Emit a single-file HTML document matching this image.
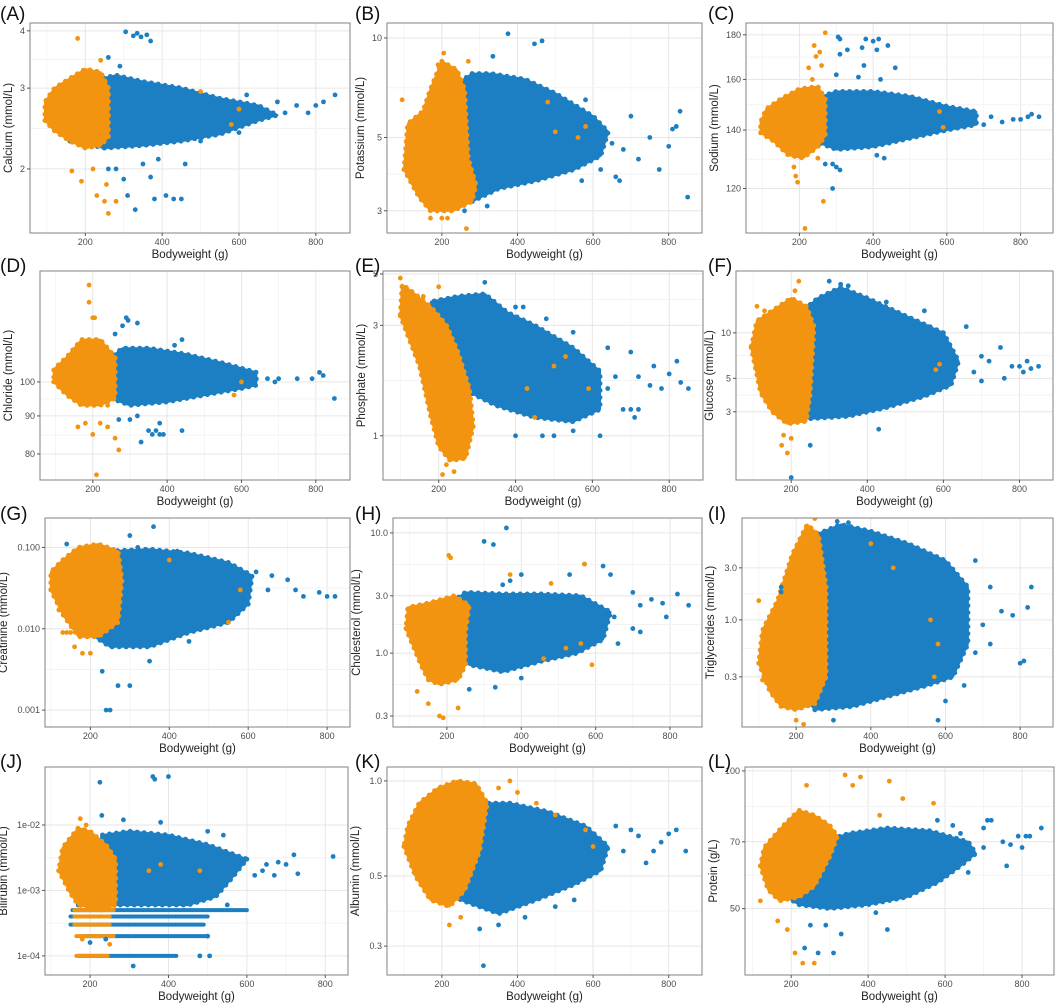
<!DOCTYPE html>
<html><head><meta charset="utf-8">
<style>
html,body{margin:0;padding:0;background:#fff;}
svg{display:block;font-family:"Liberation Sans",sans-serif;}
</style></head>
<body>
<svg id="fig" width="1059" height="1005" viewBox="0 0 1059 1005" xmlns="http://www.w3.org/2000/svg"></svg>
<script>
// ---------- data ----------
const xTicks = [200, 400, 600, 800];
const aTicks = [2, 3, 4];
const aBlueHull = [[160,2.3],[250,2.22],[350,2.25],[450,2.3],[550,2.38],[650,2.55],[700,2.62],[650,2.75],[550,2.85],[450,3.0],[350,3.1],[280,3.2],[200,3.1],[160,2.9]];
const aOrangeHull = [[95,2.55],[120,2.42],[160,2.3],[200,2.22],[240,2.25],[260,2.35],[260,3.0],[240,3.25],[200,3.3],[160,3.15],[120,3.0],[95,2.8]];
const aBluePts = [[305,3.98],[325,3.9],[335,3.95],[345,3.88],[360,3.92],[370,3.8],[260,3.5],[290,3.35],[620,2.9],[700,2.8],[750,2.75],[780,2.65],[800,2.75],[820,2.8],[850,2.9],[720,2.65],[300,1.9],[310,1.75],[330,1.63],[370,1.92],[380,1.72],[410,1.75],[430,1.72],[450,1.72],[260,2.0],[280,2.0],[350,2.05],[390,2.1],[460,2.05],[500,2.3],[600,2.4]];
const aOrangePts = [[180,3.85],[190,1.88],[165,1.98],[220,2.0],[230,1.75],[250,1.7],[260,1.6],[255,1.85],[280,1.7],[205,1.38],[215,1.4],[240,3.45],[600,2.7],[500,2.95],[580,2.5]];

const bTicks = [3, 5, 10];
const bBlueHull = [[210,3.4],[280,3.2],[350,3.5],[450,3.7],[550,4.0],[620,4.4],[640,5.2],[600,5.8],[500,6.8],[420,7.5],[330,7.8],[280,7.8],[220,7.0]];
const bOrangeHull = [[100,4.0],[140,3.3],[170,3.0],[230,3.0],[280,3.2],[290,3.6],[270,4.3],[260,7.0],[240,8.0],[200,8.5],[170,7.0],[150,6.0],[110,5.5]];
const bBluePts = [[375,10.3],[445,9.6],[465,9.8],[335,8.8],[580,6.5],[700,5.8],[750,5.0],[800,4.7],[810,5.3],[820,5.4],[830,6.0],[850,3.3],[775,4.0],[660,3.8],[670,3.7],[570,3.7],[650,4.8],[680,4.6],[720,4.3],[600,5.5],[620,4.0],[260,3.0],[320,3.1]];
const bOrangePts = [[205,9.0],[190,8.3],[270,8.5],[170,2.85],[200,2.85],[215,2.85],[265,2.65],[95,6.5],[580,5.4],[560,5.0],[480,6.4],[500,5.2]];

const cTicks = [120, 140, 160, 180];
const cBlueHull = [[240,136],[300,133],[400,134],[500,137],[600,140],[680,142],[680,147],[600,149],[500,153],[400,155],[300,155],[240,152]];
const cOrangeHull = [[95,139],[130,136],[170,131],[210,130],[250,134],[270,138],[270,152],[250,157],[200,156],[150,152],[110,148],[95,143]];
const cBluePts = [[305,179],[310,178],[330,173],[370,174],[380,178],[400,177],[410,173],[415,178],[440,175],[310,171],[375,166],[360,161],[300,162],[460,165],[420,160],[290,128],[300,127],[310,126],[290,120],[410,131],[430,130],[720,145],[750,143],[780,144],[800,144],[820,145],[830,146],[850,145],[700,142],[650,144],[270,128]];
const cOrangePts = [[270,181],[240,175],[245,170],[255,172],[260,166],[225,165],[235,160],[190,124],[195,122],[185,127],[265,116],[215,108],[250,130],[170,133],[580,147],[590,141]];

const dTicks = [80, 90, 100];
const dBlueHull = [[250,95],[300,93],[400,94],[500,96],[600,98],[640,99],[640,103],[550,106],[450,109],[350,111],[280,111],[250,108]];
const dOrangeHull = [[95,100],[130,96],[170,93],[220,93],[260,95],[260,108],[220,114],[170,114],[130,108],[95,104]];
const dBluePts = [[290,122],[295,121],[320,120],[280,119],[260,116],[440,114],[420,112],[300,89],[320,90],[350,86],[360,85],[370,86],[380,85],[390,85],[440,86],[380,88],[700,101],[750,101],[790,101],[810,103],[820,102],[850,95],[670,101],[690,100],[270,89],[330,83]];
const dOrangePts = [[190,135],[190,128],[200,122],[205,122],[160,87],[180,88],[200,85],[220,88],[240,87],[260,84],[270,81],[210,75],[240,93],[580,96],[600,100]];

const eTicks = [1, 3, 5];
const eBlueHull = [[160,2.7],[200,2.2],[260,1.6],[350,1.35],[450,1.2],[550,1.15],[620,1.3],[620,1.9],[550,2.4],[450,3.0],[380,3.4],[320,4.1],[250,4.0],[180,3.8]];
const eOrangeHull = [[100,3.3],[150,2.0],[180,1.2],[200,0.9],[230,0.78],[270,0.8],[290,1.1],[280,1.6],[250,2.3],[220,3.0],[180,3.6],[130,4.2],[105,4.5]];
const eBluePts = [[320,4.6],[400,3.6],[420,3.6],[480,3.2],[550,2.8],[640,2.4],[700,2.3],[720,1.8],[760,2.0],[800,1.85],[820,2.1],[830,1.7],[850,1.6],[780,1.6],[750,1.65],[680,1.3],[700,1.3],[720,1.3],[710,1.2],[620,1.0],[550,1.05],[470,1.0],[500,1.0],[400,1.0],[640,1.6],[600,1.6],[660,1.8]];
const eOrangePts = [[100,4.8],[110,4.0],[200,4.4],[160,4.0],[500,2.0],[530,2.2],[590,1.6],[220,0.75],[240,0.7],[260,0.8],[210,0.68],[280,1.1],[450,1.2],[430,1.6]];

const fTicks = [3, 5, 10];
const fBlueHull = [[180,3.0],[250,2.7],[350,2.8],[450,3.2],[550,3.8],[620,4.5],[640,6.5],[600,10],[500,13],[400,17],[330,20],[270,17],[200,12],[170,7]];
const fOrangeHull = [[95,8],[120,4],[150,3.0],[190,2.5],[240,2.6],[250,4],[260,11],[240,15],[200,17],[150,14],[110,12]];
const fBluePts = [[300,22],[330,21],[350,20.5],[400,16],[450,16],[550,14],[560,11],[600,10],[660,11],[700,7],[750,8],[760,5],[780,6],[800,6],[810,5.5],[820,6.5],[830,5.8],[850,6],[720,6.5],[680,5.5],[250,1.8],[200,1.1],[430,2.3],[700,4.8]];
const fOrangePts = [[190,1.6],[180,2.1],[200,2.0],[175,1.8],[220,22],[210,19],[580,5.7],[590,6.2],[110,15],[130,14]];

const gTicks = [0.001, 0.01, 0.1];
const gTickLabels = ["0.001", "0.010", "0.100"];
const gBlueHull = [[180,0.01],[250,0.006],[350,0.006],[450,0.009],[550,0.012],[600,0.02],[610,0.045],[550,0.065],[450,0.085],[350,0.095],[250,0.09],[180,0.06]];
const gOrangeHull = [[100,0.03],[130,0.015],[170,0.008],[220,0.008],[270,0.012],[280,0.04],[270,0.09],[220,0.11],[170,0.1],[130,0.07],[100,0.05]];
const gBluePts = [[140,0.11],[360,0.18],[300,0.14],[320,0.1],[420,0.09],[700,0.04],[720,0.03],[740,0.025],[780,0.028],[800,0.025],[820,0.025],[650,0.03],[620,0.05],[660,0.045],[270,0.002],[300,0.002],[240,0.001],[250,0.001],[230,0.003],[450,0.007],[350,0.004]];
const gOrangePts = [[150,0.009],[140,0.009],[130,0.009],[120,0.017],[160,0.006],[180,0.005],[200,0.005],[580,0.03],[550,0.012],[400,0.07]];

const hTicks = [0.3, 1, 3, 10];
const hTickLabels = ["0.3", "1.0", "3.0", "10.0"];
const hBlueHull = [[200,1.2],[260,0.8],[350,0.7],[450,0.85],[550,1.0],[620,1.3],[640,2.2],[560,3.0],[450,3.1],[350,3.1],[250,3.2],[200,2.5]];
const hOrangeHull = [[90,1.6],[130,0.8],[150,0.6],[180,0.55],[230,0.6],[250,0.8],[250,1.5],[260,2.5],[220,3.0],[150,2.6],[95,2.4]];
const hBluePts = [[360,11],[300,8.5],[325,8],[570,5.5],[620,5.3],[640,4.5],[700,3.2],[720,2.5],[750,2.8],[790,2.0],[820,3.1],[850,2.5],[780,2.6],[700,1.6],[720,1.5],[660,1.2],[650,2.0],[530,4.5],[370,4],[400,4.5],[260,0.5],[330,0.52],[400,0.62],[350,3.7]];
const hOrangePts = [[205,6.5],[210,6.2],[370,4.5],[480,3.8],[570,5.5],[590,0.8],[560,1.2],[520,1.1],[460,0.9],[180,0.3],[190,0.29],[150,0.38],[230,0.35],[120,0.48]];

const iTicks = [0.3, 1, 3];
const iTickLabels = ["0.3", "1.0", "3.0"];
const iBlueHull = [[180,0.3],[250,0.15],[350,0.16],[450,0.2],[550,0.25],[620,0.3],[660,0.6],[660,2],[600,3.5],[500,5],[400,6.5],[320,7.5],[250,6],[190,3]];
const iOrangeHull = [[100,0.4],[130,0.22],[160,0.16],[200,0.15],[250,0.17],[280,0.3],[280,2],[260,6],[230,7.5],[190,4],[150,1.5],[110,0.8]];
const iBluePts = [[310,8],[340,7.8],[680,3.5],[720,2.0],[750,1.2],[800,0.4],[810,0.42],[820,1.3],[830,2],[780,1.1],[700,0.9],[650,0.25],[600,0.18],[580,0.12],[250,0.1],[300,0.12],[680,0.5],[720,0.6],[160,1.8],[160,2.0]];
const iOrangePts = [[100,1.5],[110,0.28],[200,0.12],[220,0.11],[580,0.6],[570,0.3],[560,1],[400,5],[460,3],[250,8.5]];

const jTicks = [1e-4, 1e-3, 1e-2];
const jTickLabels = ["1e-04", "1e-03", "1e-02"];
const jBlueHull = [[170,6e-4],[450,6e-4],[520,8e-4],[560,1.5e-3],[600,3e-3],[500,5e-3],[400,7e-3],[300,8e-3],[230,7e-3]];
const jOrangeHull = [[120,2e-3],[150,9e-4],[170,6e-4],[230,5e-4],[265,6e-4],[265,3e-3],[240,5e-3],[200,8e-3],[170,9e-3],[130,4.5e-3]];
const jBandLevels = [5e-4, 4e-4, 3e-4, 2e-4, 1e-4];
const jBlueBandStart = [155, 150, 150, 180, 170];
const jBlueBandEnd = [600, 500, 490, 500, 420];
const jOrangeBandStart = [160, 160, 160, 165, 165];
const jOrangeBandEnd = [260, 250, 250, 260, 245];
const jBluePts = [[600,3e-3],[650,2.5e-3],[700,2.5e-3],[720,3.5e-3],[730,1.8e-3],[820,3.3e-3],[620,1.7e-3],[680,2.7e-3],[640,2e-3],[670,1.7e-3],[225,4.5e-2],[360,5.5e-2],[365,5e-2],[400,5.5e-2],[230,1.4e-2],[285,1.2e-2],[380,1.1e-2],[500,8e-3],[540,7e-3],[200,1.6e-4],[240,1.8e-4],[310,7e-5],[480,1e-4],[505,1e-4],[550,6e-4],[500,2e-4]];
const jOrangePts = [[175,1.25e-2],[190,1e-2],[250,1.5e-4],[180,1.8e-4],[480,2e-3],[350,2e-3],[380,2.5e-3]];

const kTicks = [0.3, 0.5, 1];
const kTickLabels = ["0.3", "0.5", "1.0"];
const kBlueHull = [[180,0.5],[250,0.42],[350,0.38],[450,0.42],[550,0.47],[620,0.52],[640,0.62],[580,0.72],[480,0.8],[380,0.85],[300,0.85],[220,0.75]];
const kOrangeHull = [[100,0.62],[130,0.5],[170,0.42],[220,0.4],[260,0.45],[300,0.6],[320,0.85],[290,0.98],[240,1.0],[190,0.95],[140,0.85],[110,0.72]];
const kBluePts = [[660,0.72],[700,0.7],[720,0.67],[760,0.6],[780,0.64],[800,0.68],[820,0.7],[845,0.6],[740,0.55],[680,0.6],[310,0.26],[300,0.34],[350,0.35],[420,0.37],[500,0.4],[550,0.42]];
const kOrangePts = [[350,0.95],[380,1.0],[400,0.92],[450,0.85],[500,0.78],[250,0.37],[220,0.35],[580,0.7],[600,0.62]];

const lTicks = [50, 70, 100];
const lBlueHull = [[160,55],[220,51],[300,50],[400,51],[500,53],[580,57],[640,62],[680,66],[660,70],[560,74],[450,75],[350,73],[280,70],[220,64]];
const lOrangeHull = [[120,62],[140,55],[170,52],[220,53],[260,56],[300,65],[320,72],[300,76],[260,80],[220,82],[180,76],[130,68]];
const lBluePts = [[700,75],[720,78],[710,78],[790,72],[800,68],[810,72],[820,72],[850,75],[750,70],[770,69],[700,68],[620,76],[640,73],[760,62],[580,78],[660,60],[450,45],[420,49],[330,44],[310,40],[270,40],[235,41],[250,46],[290,46],[490,53]];
const lOrangePts = [[340,98],[380,97],[455,95],[570,85],[490,87],[430,80],[240,93],[360,93],[260,38],[265,35],[230,38],[210,40],[190,45],[165,47],[120,52]];

// ---------- layout ----------
const BLUE = "#1d7fc3", ORANGE = "#f39410";
const NS = "http://www.w3.org/2000/svg";
const svg = document.getElementById("fig");
function mk(tag, attrs, parent) {
  const e = document.createElementNS(NS, tag);
  for (const k in attrs) e.setAttribute(k, attrs[k]);
  (parent || svg).appendChild(e);
  return e;
}
const panels = [
  {id:"a",lab:"(A)",title:"Calcium (mmol/L)",l:30,r:350,t:23,b:233,x0:56,x1:889,y0:1.45,y1:4.16,ticks:aTicks,tl:null,bh:aBlueHull,oh:aOrangeHull,bp:aBluePts,op:aOrangePts,lx:0,ly:22},
  {id:"b",lab:"(B)",title:"Potassium (mmol/L)",l:387,r:702,t:23,b:233,x0:55,x1:888,y0:2.57,y1:11.1,ticks:bTicks,tl:null,bh:bBlueHull,oh:bOrangeHull,bp:bBluePts,op:bOrangePts,lx:355,ly:22},
  {id:"c",lab:"(C)",title:"Sodium (mmol/L)",l:746,r:1053,t:23,b:233,x0:55,x1:888,y0:106.7,y1:185.7,ticks:cTicks,tl:null,bh:cBlueHull,oh:cOrangeHull,bp:cBluePts,op:cOrangePts,lx:708,ly:22},
  {id:"d",lab:"(D)",title:"Chloride (mmol/L)",l:40,r:350,t:271,b:480,x0:58,x1:892,y0:73.8,y1:141,ticks:dTicks,tl:null,bh:dBlueHull,oh:dOrangeHull,bp:dBluePts,op:dOrangePts,lx:0,ly:274},
  {id:"e",lab:"(E)",title:"Phosphate (mmol/L)",l:383,r:703,t:271,b:480,x0:55,x1:888,y0:0.644,y1:5.15,ticks:eTicks,tl:null,bh:eBlueHull,oh:eOrangeHull,bp:eBluePts,op:eOrangePts,lx:355,ly:274},
  {id:"f",lab:"(F)",title:"Glucose (mmol/L)",l:736,r:1053,t:271,b:480,x0:55,x1:888,y0:1.06,y1:25.7,ticks:fTicks,tl:null,bh:fBlueHull,oh:fOrangeHull,bp:fBluePts,op:fOrangePts,lx:708,ly:274},
  {id:"g",lab:"(G)",title:"Creatinine (mmol/L)",l:45,r:350,t:518,b:727,x0:85,x1:858,y0:0.00062,y1:0.23,ticks:gTicks,tl:gTickLabels,bh:gBlueHull,oh:gOrangeHull,bp:gBluePts,op:gOrangePts,lx:0,ly:522},
  {id:"h",lab:"(H)",title:"Cholesterol (mmol/L)",l:393,r:702,t:518,b:727,x0:55,x1:886,y0:0.243,y1:13.3,ticks:hTicks,tl:hTickLabels,bh:hBlueHull,oh:hOrangeHull,bp:hBluePts,op:hOrangePts,lx:355,ly:522},
  {id:"i",lab:"(I)",title:"Triglycerides (mmol/L)",l:742,r:1053,t:518,b:727,x0:55,x1:888,y0:0.104,y1:8.6,ticks:iTicks,tl:iTickLabels,bh:iBlueHull,oh:iOrangeHull,bp:iBluePts,op:iOrangePts,lx:708,ly:522},
  {id:"j",lab:"(J)",title:"Bilirubin (mmol/L)",l:45,r:348,t:767,b:975,x0:85,x1:858,y0:5.1e-5,y1:7.7e-2,ticks:jTicks,tl:jTickLabels,bh:jBlueHull,oh:jOrangeHull,bp:jBluePts,op:jOrangePts,lx:0,ly:770,bands:true},
  {id:"k",lab:"(K)",title:"Albumin (mmol/L)",l:387,r:702,t:767,b:975,x0:55,x1:888,y0:0.243,y1:1.107,ticks:kTicks,tl:kTickLabels,bh:kBlueHull,oh:kOrangeHull,bp:kBluePts,op:kOrangePts,lx:355,ly:770},
  {id:"l",lab:"(L)",title:"Protein (g/L)",l:745,r:1054,t:767,b:975,x0:80,x1:883,y0:35.8,y1:102,ticks:lTicks,tl:null,bh:lBlueHull,oh:lOrangeHull,bp:lBluePts,op:lOrangePts,lx:708,ly:770}
];

panels.forEach(p => {
  const g = mk("g", {});
  
  
  const sx = v => p.l + (v - p.x0) / (p.x1 - p.x0) * (p.r - p.l);
  const ly0 = Math.log(p.y0), ly1 = Math.log(p.y1);
  const sy = v => p.b - (Math.log(v) - ly0) / (ly1 - ly0) * (p.b - p.t);
  const defs = mk("clipPath", {id: "clip-" + p.id}, g);
  mk("rect", {x: p.l, y: p.t, width: p.r - p.l, height: p.b - p.t}, defs);

  const grid = mk("g", {}, g);
  
  
  xTicks.forEach(t => {
    const xm = sx(t - 100);
    if (xm > p.l) mk("line", {x1: xm, x2: xm, y1: p.t, y2: p.b, stroke: "#f3f3f3", "stroke-width": 0.8}, grid);
    mk("line", {x1: sx(t), x2: sx(t), y1: p.t, y2: p.b, stroke: "#e6e6e6", "stroke-width": 1}, grid);
  });
  const xm9 = sx(900); if (xm9 < p.r) mk("line", {x1: xm9, x2: xm9, y1: p.t, y2: p.b, stroke: "#f3f3f3"}, grid);
  p.ticks.forEach((t, i) => {
    mk("line", {x1: p.l, x2: p.r, y1: sy(t), y2: sy(t), stroke: "#e6e6e6", "stroke-width": 1}, grid);
    const nxt = p.ticks[i + 1];
    if (nxt) { const ym = (sy(t) + sy(nxt)) / 2; mk("line", {x1: p.l, x2: p.r, y1: ym, y2: ym, stroke: "#f3f3f3"}, grid); }
  });

  const data = mk("g", {"clip-path": "url(#clip-" + p.id + ")"}, g);
  
  
  const hullPts = h => h.map(d => sx(d[0]).toFixed(1) + "," + sy(d[1]).toFixed(1)).join(" ");
  function cloud(h, col, name) {
    const fr = mk("polygon", {points: hullPts(h), fill: "none", stroke: col, "stroke-width": 5, "stroke-dasharray": "0 7", "stroke-linecap": "round", transform: ""}, data);
    
    
    const pg = mk("polygon", {points: hullPts(h), fill: col, stroke: col, "stroke-width": 2, "stroke-linejoin": "round"}, data);
    
    
  }
  cloud(p.bh, BLUE, 'cloud-blue');
  if (p.bands) {
    jBandLevels.forEach((lv, i) => {
      const bl = mk("line", {x1: sx(jBlueBandStart[i]), x2: sx(jBlueBandEnd[i]), y1: sy(lv), y2: sy(lv), stroke: BLUE, "stroke-width": 4, "stroke-linecap": "round"}, data);
      
      
    });
  }
  cloud(p.oh, ORANGE, 'cloud-orange');
  if (p.bands) {
    jBandLevels.forEach((lv, i) => {
      const ol = mk("line", {x1: sx(jOrangeBandStart[i]), x2: sx(jOrangeBandEnd[i]), y1: sy(lv), y2: sy(lv), stroke: ORANGE, "stroke-width": 4, "stroke-linecap": "round"}, data);
      
      
    });
  }
  p.bp.forEach(d => {
    const c = mk("circle", {cx: sx(d[0]), cy: sy(d[1]), r: 2.4, fill: BLUE}, data);
    
    
  });
  p.op.forEach(d => {
    const c = mk("circle", {cx: sx(d[0]), cy: sy(d[1]), r: 2.4, fill: ORANGE}, data);
    
    
  });

  const fr = mk("rect", {x: p.l, y: p.t, width: p.r - p.l, height: p.b - p.t, fill: "none", stroke: "#8c8c8c", "stroke-width": 1.1}, g);
  
  

  xTicks.forEach(t => {
    mk("line", {x1: sx(t), x2: sx(t), y1: p.b, y2: p.b + 3, stroke: "#555"}, g);
    const tx = mk("text", {x: sx(t), y: p.b + 12, "font-size": 9, fill: "#4d4d4d", "text-anchor": "middle"}, g);
    tx.textContent = t;
    
    
  });
  const xt = mk("text", {x: (p.l + p.r) / 2, y: p.b + 25, "font-size": 11.5, fill: "#222", "text-anchor": "middle"}, g);
  xt.textContent = "Bodyweight (g)";
  
  

  let maxLen = 0;
  p.ticks.forEach((t, i) => {
    const lab = p.tl ? p.tl[i] : String(t);
    maxLen = Math.max(maxLen, lab.length);
    mk("line", {x1: p.l - 3, x2: p.l, y1: sy(t), y2: sy(t), stroke: "#555"}, g);
    const ty = mk("text", {x: p.l - 5, y: sy(t) + 3, "font-size": 9, fill: "#4d4d4d", "text-anchor": "end"}, g);
    ty.textContent = lab;
    
    
  });
  const yx = p.l - 8 - maxLen * 5 - 5;
  const ym = (p.t + p.b) / 2;
  const yt = mk("text", {x: yx, y: ym, "font-size": 11.5, fill: "#222", "text-anchor": "middle", transform: "rotate(-90 " + yx + " " + ym + ")"}, g);
  yt.textContent = p.title;
  
  

  const pl = mk("text", {x: p.lx, y: p.ly - 2, "font-size": 19, fill: "#111"}, g);
  pl.textContent = p.lab;
  
  
});
</script>
</body></html>
